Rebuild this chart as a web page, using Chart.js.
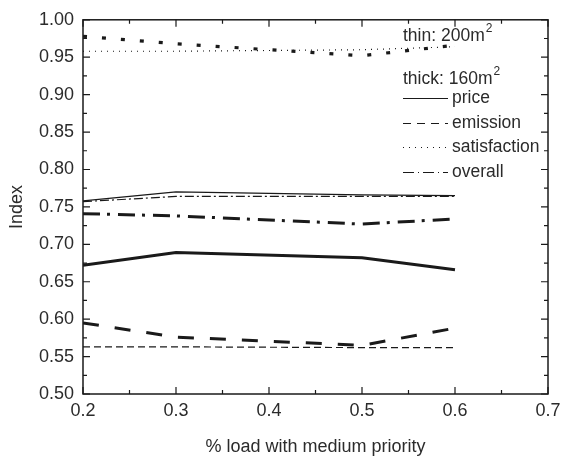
<!DOCTYPE html>
<html>
<head>
<meta charset="utf-8">
<script src="https://cdn.jsdelivr.net/npm/chart.js@4/dist/chart.umd.min.js"></script>
<style>
  html, body { margin: 0; padding: 0; background: #fff; }
</style>
</head>
<body>
<canvas id="chart" width="562" height="458"></canvas>
<script>
// x values: share of load with medium priority
const loadShare = [0.2, 0.3, 0.5, 0.6];

// thin: 200m2
const priceThin = [0.758, 0.770, 0.766, 0.765];
const emissionThin = [0.563, 0.563, 0.562, 0.562];
const satisfactionThin = [0.958, 0.958, 0.960, 0.964];
const overallThin = [0.757, 0.764, 0.764, 0.764];

// thick: 160m2
const priceThick = [0.672, 0.689, 0.682, 0.666];
const emissionThick = [0.595, 0.576, 0.565, 0.588];
const satisfactionThick = [0.978, 0.968, 0.952, 0.966];
const overallThick = [0.741, 0.738, 0.727, 0.734];

const legendLabels = ["price", "emission", "satisfaction", "overall"];
const groupLabels = ["thin: 200m", "thick: 160m"];

const FONT = "'Liberation Sans', Arial, sans-serif";
const TEXT = "#2b2b2b";
const LINE = "#1a1a1a";

// dash patterns per metric, thin and thick
const thinDash = { price: [], emission: [7, 4], satisfaction: [1, 5], overall: [9, 3, 2, 3] };
const thickDash = { price: [], emission: [16, 16], satisfaction: [4, 15], overall: [17, 7, 3, 8] };
const legendDash = { price: [], emission: [8, 6], satisfaction: [1, 5], overall: [11, 4, 1, 4] };

const makeSet = (label, values, width, dash) => ({
  label,
  data: loadShare.map((x, i) => ({ x, y: values[i] })),
  borderColor: LINE,
  borderWidth: width,
  borderDash: dash,
  borderCapStyle: "butt",
  pointRadius: 0,
  tension: 0,
  fill: false,
});

// Frame with inward ticks on all four sides
const framePlugin = {
  id: "frame",
  afterDraw(chart) {
    const { ctx, chartArea: a, scales } = chart;
    const x = scales.x;
    const y = scales.y;
    ctx.save();
    ctx.strokeStyle = LINE;
    ctx.lineWidth = 1.5;
    ctx.strokeRect(a.left, a.top, a.right - a.left, a.bottom - a.top);
    ctx.lineWidth = 1.2;
    ctx.beginPath();
    const nx = Math.round((x.max - x.min) / 0.05);
    for (let k = 0; k <= nx; k++) {
      const px = x.getPixelForValue(x.min + k * 0.05);
      const len = k % 2 === 0 ? 7 : 4;
      ctx.moveTo(px, a.bottom);
      ctx.lineTo(px, a.bottom - len);
      ctx.moveTo(px, a.top);
      ctx.lineTo(px, a.top + len);
    }
    const ny = Math.round((y.max - y.min) / 0.025);
    for (let k = 0; k <= ny; k++) {
      const py = y.getPixelForValue(y.min + k * 0.025);
      const len = k % 2 === 0 ? 7 : 4;
      ctx.moveTo(a.left, py);
      ctx.lineTo(a.left + len, py);
      ctx.moveTo(a.right, py);
      ctx.lineTo(a.right - len, py);
    }
    ctx.stroke();
    ctx.restore();
  },
};

// Hand-made legend in the upper right
const legendPlugin = {
  id: "customLegend",
  afterDraw(chart) {
    const { ctx } = chart;
    const left = 403;
    ctx.save();
    ctx.fillStyle = TEXT;
    ctx.textBaseline = "middle";
    const drawGroup = (text, cy) => {
      ctx.font = `17.5px ${FONT}`;
      ctx.fillText(text, left, cy);
      const w = ctx.measureText(text).width;
      ctx.font = `12px ${FONT}`;
      ctx.fillText("2", left + w + 1, cy - 7);
    };
    drawGroup(groupLabels[0], 36);
    drawGroup(groupLabels[1], 79);

    const rows = [98, 123, 147, 172];
    ctx.font = `17.5px ${FONT}`;
    ctx.strokeStyle = LINE;
    ctx.lineWidth = 1;
    legendLabels.forEach((label, i) => {
      const cy = rows[i];
      ctx.setLineDash(legendDash[label]);
      ctx.beginPath();
      ctx.moveTo(left, cy + 0.5);
      ctx.lineTo(448, cy + 0.5);
      ctx.stroke();
      ctx.fillText(label, 452, cy);
    });
    ctx.restore();
  },
};

new Chart(document.getElementById("chart"), {
  type: "line",
  data: {
    datasets: [
      makeSet("price thin", priceThin, 1.2, thinDash.price),
      makeSet("emission thin", emissionThin, 1.2, thinDash.emission),
      makeSet("satisfaction thin", satisfactionThin, 1.2, thinDash.satisfaction),
      makeSet("overall thin", overallThin, 1.2, thinDash.overall),
      makeSet("price thick", priceThick, 3, thickDash.price),
      makeSet("emission thick", emissionThick, 3, thickDash.emission),
      makeSet("satisfaction thick", satisfactionThick, 3.2, thickDash.satisfaction),
      makeSet("overall thick", overallThick, 3, thickDash.overall),
    ],
  },
  options: {
    responsive: false,
    animation: false,
    devicePixelRatio: 1,
    layout: { padding: { top: 17, right: 14, left: 0, bottom: 0 } },
    plugins: {
      legend: { display: false },
      tooltip: { enabled: false },
    },
    scales: {
      x: {
        type: "linear",
        min: 0.2,
        max: 0.7,
        grid: { display: false, drawTicks: false },
        border: { display: false },
        ticks: {
          stepSize: 0.1,
          padding: 6,
          color: TEXT,
          font: { family: FONT, size: 18 },
          maxRotation: 0,
          callback: (v) => Number(v).toFixed(1),
        },
        title: {
          display: true,
          text: "% load with medium priority",
          color: TEXT,
          font: { family: FONT, size: 18 },
          padding: { top: 0, bottom: 0 },
        },
        afterFit: (scale) => {
          scale.height = 64;
          scale.paddingLeft = 0;
          scale.paddingRight = 0;
        },
      },
      y: {
        type: "linear",
        min: 0.5,
        max: 1.0,
        grid: { display: false, drawTicks: false },
        border: { display: false },
        ticks: {
          stepSize: 0.05,
          padding: 9,
          color: TEXT,
          font: { family: FONT, size: 18 },
          callback: (v) => Number(v).toFixed(2),
        },
        title: {
          display: true,
          text: "Index",
          color: TEXT,
          font: { family: FONT, size: 18 },
          padding: { top: 6, bottom: 0 },
        },
        afterFit: (scale) => {
          scale.width = 83;
        },
      },
    },
  },
  plugins: [framePlugin, legendPlugin],
});
</script>
</body>
</html>
